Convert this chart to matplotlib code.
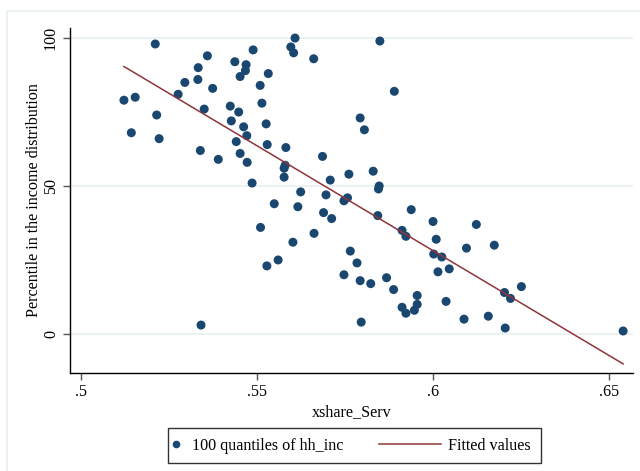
import numpy as np
import matplotlib
matplotlib.use("Agg")
import matplotlib.pyplot as plt
from matplotlib.patches import Rectangle
from matplotlib.lines import Line2D
from matplotlib.legend_handler import HandlerBase

plt.rcParams['font.family'] = ['Liberation Serif', 'DejaVu Serif']

# 100 quantiles of hh_inc: service share vs. percentile
xshare_serv = [
    0.5211, 0.5359, 0.5489, 0.5437, 0.5469, 0.5467, 0.5452, 0.5532, 0.5333, 0.5332,
    0.5295, 0.5509, 0.5374, 0.5276, 0.5122, 0.5154, 0.5514, 0.5350, 0.5424, 0.5448,
    0.5215, 0.5427, 0.5462, 0.5526, 0.5143, 0.5471, 0.5222, 0.5441, 0.5529, 0.5339,
    0.5452, 0.5390, 0.5472, 0.5486, 0.5608, 0.5596, 0.5604, 0.5661, 0.5849, 0.5890,
    0.5793, 0.5805, 0.5582, 0.5686, 0.5580, 0.5577, 0.5577, 0.5830, 0.5761, 0.5708,
    0.5847, 0.5845, 0.5624, 0.5696, 0.5757, 0.5747, 0.5549, 0.5616, 0.5689, 0.5712,
    0.5843, 0.5938, 0.5510, 0.5662, 0.5912, 0.5923, 0.5602, 0.5765, 0.5784, 0.5560,
    0.5528, 0.5747, 0.5793, 0.5823, 0.5868, 0.5888, 0.5955, 0.5912, 0.5923, 0.5947,
    0.5955, 0.5796, 0.5341, 0.6000, 0.6123, 0.6009, 0.6095, 0.6174, 0.6002, 0.6025,
    0.6046, 0.6014, 0.6203, 0.6220, 0.6251, 0.6037, 0.6088, 0.6157, 0.6205, 0.6540,
]
percentile = [
    98, 94, 96, 92, 91, 89, 87, 88, 90, 86,
    85, 84, 83, 81, 79, 80, 78, 76, 77, 75,
    74, 72, 70, 71, 68, 67, 66, 65, 64, 62,
    61, 59, 58, 51, 100, 97, 95, 93, 99, 82,
    73, 69, 63, 60, 57, 56, 53, 55, 54, 52,
    50, 49, 48, 47, 46, 45, 44, 43, 41, 39,
    40, 42, 36, 34, 35, 33, 31, 28, 24, 25,
    23, 20, 18, 17, 19, 15, 13, 9, 7, 8,
    10, 4, 3, 38, 37, 32, 29, 30, 27, 26,
    22, 21, 14, 12, 16, 11, 5, 6, 2, 1,
]

x_ticks = [0.5, 0.55, 0.6, 0.65]
x_tick_labels = [".5", ".55", ".6", ".65"]
y_ticks = [0, 50, 100]

navy = "#1a476f"
maroon = "#90353b"
grid_col = "#eaf2f3"
FS = 11.6


class DotHandler(HandlerBase):
    # small dot pushed a little to the left of its handle box
    def create_artists(self, legend, orig_handle, xdescent, ydescent,
                       width, height, fontsize, trans):
        m = Line2D([width / 2 - xdescent - 3.8], [height / 2 - ydescent],
                   marker="o", markersize=4.5, color=navy, linestyle="none",
                   transform=trans)
        return [m]


class LongLineHandler(HandlerBase):
    # line that reaches back into the column gap
    def create_artists(self, legend, orig_handle, xdescent, ydescent,
                       width, height, fontsize, trans):
        yy = height / 2 - ydescent
        ln = Line2D([width - xdescent - 44.3, width - xdescent], [yy, yy],
                    color=maroon, linewidth=1.1, transform=trans)
        return [ln]


x = np.array(xshare_serv)
y = np.array(percentile)
slope, intercept = np.polyfit(x, y, 1)
xfit = np.array([x.min(), x.max()])
yfit = intercept + slope * xfit

W, H = 640, 471
fig = plt.figure(figsize=(W / 100, H / 100), dpi=100)
fig.patch.set_facecolor("white")

# faint graph-region outline (Stata style)
fig.patches.append(Rectangle((7 / W, -0.1), 1.2, 1 - 11 / H + 0.1,
                             transform=fig.transFigure, fill=False,
                             edgecolor=grid_col, linewidth=1.5))

ax = fig.add_axes([70 / W, 1 - 373 / H, (633 - 70) / W, (373 - 28) / H])
ax.set_xlim(0.49688, 0.6568)
ax.set_ylim(-13.2, 103.4)

for v in y_ticks:
    ax.axhline(v, color=grid_col, linewidth=1.5, zorder=0)

pts = ax.scatter(x, y, s=42, color=navy, edgecolors="none", zorder=3)
fit_line, = ax.plot(xfit, yfit, color=maroon, linewidth=1.1, zorder=4)

for side in ["top", "right"]:
    ax.spines[side].set_visible(False)
for side in ["left", "bottom"]:
    ax.spines[side].set_color("black")
    ax.spines[side].set_linewidth(1.0)

ax.set_xticks(x_ticks)
ax.set_xticklabels(x_tick_labels)
ax.set_yticks(y_ticks)
ax.set_yticklabels([str(v) for v in y_ticks], rotation=90, va="center")
ax.tick_params(axis="both", direction="out", length=5, width=1, color="#555555",
               labelsize=FS, pad=3)

ax.set_xlabel("xshare_Serv", fontsize=FS, labelpad=3)
ax.set_ylabel("Percentile in the income distribution", fontsize=FS, labelpad=0.5)

leg = ax.legend([pts, fit_line], ["100 quantiles of hh_inc", "Fitted values"],
                handler_map={pts: DotHandler(), fit_line: LongLineHandler()},
                loc="center", bbox_to_anchor=(354.5 / W, 1 - 445.5 / H),
                bbox_transform=fig.transFigure, ncol=2, fontsize=FS,
                frameon=True, fancybox=False, edgecolor="black",
                handlelength=0.4, columnspacing=5.63, borderpad=0.6,
                handletextpad=0.47)
leg.get_frame().set_linewidth(1.0)

fig.savefig("out.png", dpi=100, facecolor="white")
